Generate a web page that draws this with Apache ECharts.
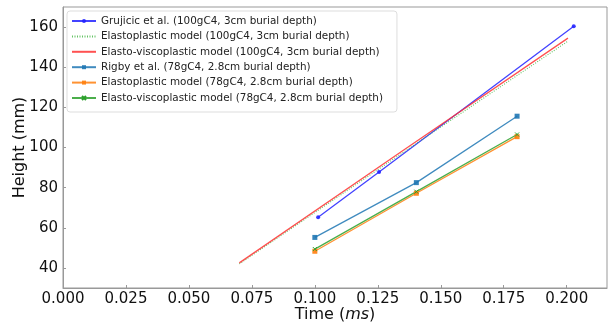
<!DOCTYPE html>
<html>
<head>
<meta charset="utf-8">
<script src="https://cdn.jsdelivr.net/npm/echarts@6/dist/echarts.min.js"></script>
<style>
  html, body { margin: 0; padding: 0; background: #fff; }
  #chart { width: 609px; height: 328px; }
</style>
</head>
<body>
<div id="chart"></div>
<script>
// values
const xTicks = [0, 0.025, 0.05, 0.075, 0.1, 0.125, 0.15, 0.175, 0.2];
const yTicks = [40, 60, 80, 100, 120, 140, 160];

const grujicic = [[0.1013, 65.2], [0.1255, 87.8], [0.2028, 160.4]];
const elastoplastic100 = [[0.070, 42.0], [0.135, 97.5], [0.2005, 153.0]];
const elastoVisco100 = [[0.070, 42.5], [0.135, 98.5], [0.2005, 154.5]];
const rigby = [[0.100, 55.2], [0.1403, 82.5], [0.1803, 115.6]];
const elastoplastic78 = [[0.100, 48.3], [0.1403, 77.2], [0.1803, 105.4]];
const elastoVisco78 = [[0.100, 49.4], [0.1403, 78.0], [0.1803, 106.5]];

const names = [
    'Grujicic et al. (100gC4, 3cm burial depth)',
    'Elastoplastic model (100gC4, 3cm burial depth)',
    'Elasto-viscoplastic model (100gC4, 3cm burial depth)',
    'Rigby et al. (78gC4, 2.8cm burial depth)',
    'Elastoplastic model (78gC4, 2.8cm burial depth)',
    'Elasto-viscoplastic model (78gC4, 2.8cm burial depth)',
];

const font = 'DejaVu Sans';
const chart = echarts.init(document.getElementById('chart'));

const line = (name, data, color, opts) => Object.assign({
    type: 'line',
    name,
    data,
    showSymbol: true,
    symbol: 'none',
    symbolSize: 4,
    lineStyle: { color, width: 1.3, opacity: 0.85 },
    itemStyle: { color, opacity: 0.9 },
    emphasis: { disabled: true },
    animation: false,
}, opts);

const xShape = 'path://M0,0L10,10M10,0L0,10';

// line-only entries: hide the legend symbol, keep the line
const legendData = names.map((name, i) =>
    (i === 1 || i === 2) ? { name, itemStyle: { opacity: 0 } } : { name });

chart.setOption({
    textStyle: { fontFamily: font },
    grid: {
        left: 63, right: 2, top: 7, bottom: 40,
        outerBoundsMode: 'none',
        show: true, borderColor: '#999', borderWidth: 1,
    },
    legend: {
        orient: 'vertical',
        left: 67, top: 11,
        itemWidth: 24, itemHeight: 5, itemGap: 3.4,
        padding: [4, 14, 8, 4],
        borderColor: '#ddd', borderWidth: 1, borderRadius: 3,
        backgroundColor: '#fff',
        textStyle: { fontFamily: font, fontSize: 10.4, lineHeight: 12, color: '#222' },
        data: legendData,
    },
    xAxis: {
        type: 'value',
        min: 0, max: 0.216,
        name: 'Time ({i|ms})',
        nameLocation: 'middle',
        nameGap: 19,
        nameMoveOverlap: false,
        nameTextStyle: {
            fontFamily: font, fontSize: 16, color: '#111',
            rich: { i: { fontFamily: font, fontSize: 16, fontStyle: 'italic', color: '#111' } },
        },
        splitLine: { show: false },
        axisLine: { show: true, onZero: false, lineStyle: { color: '#999' } },
        axisTick: { show: true, inside: true, length: 3, customValues: xTicks, lineStyle: { color: '#999' } },
        axisLabel: {
            customValues: xTicks,
            fontFamily: font, fontSize: 15, color: '#111', margin: 4,
            formatter: (v) => v.toFixed(3),
        },
    },
    yAxis: {
        type: 'value',
        min: 30, max: 170,
        name: 'Height (mm)',
        nameLocation: 'middle',
        nameGap: 35,
        nameMoveOverlap: false,
        nameTextStyle: { fontFamily: font, fontSize: 16, color: '#111' },
        splitLine: { show: false },
        axisLine: { show: true, onZero: false, lineStyle: { color: '#999' } },
        axisTick: { show: true, inside: true, length: 3, customValues: yTicks, lineStyle: { color: '#999' } },
        axisLabel: {
            customValues: yTicks,
            fontFamily: font, fontSize: 15, color: '#111', margin: 5,
        },
    },
    series: [
        line(names[0], grujicic, '#2222ff', { symbol: 'circle', symbolSize: 4 }),
        line(names[1], elastoplastic100, '#3cb43c', {
            lineStyle: { color: '#3cb43c', width: 1.1, type: [1, 1.5], opacity: 0.8 },
        }),
        line(names[2], elastoVisco100, '#ff3333'),
        line(names[3], rigby, '#1f77b4', { symbol: 'rect', symbolSize: 5 }),
        line(names[4], elastoplastic78, '#ff7f0e', { symbol: 'rect', symbolSize: 5 }),
        line(names[5], elastoVisco78, '#2ca02c', {
            symbol: xShape, symbolSize: 4,
            itemStyle: { color: '#2ca02c', borderColor: '#2ca02c', borderWidth: 1 },
        }),
    ],
});
</script>
</body>
</html>
